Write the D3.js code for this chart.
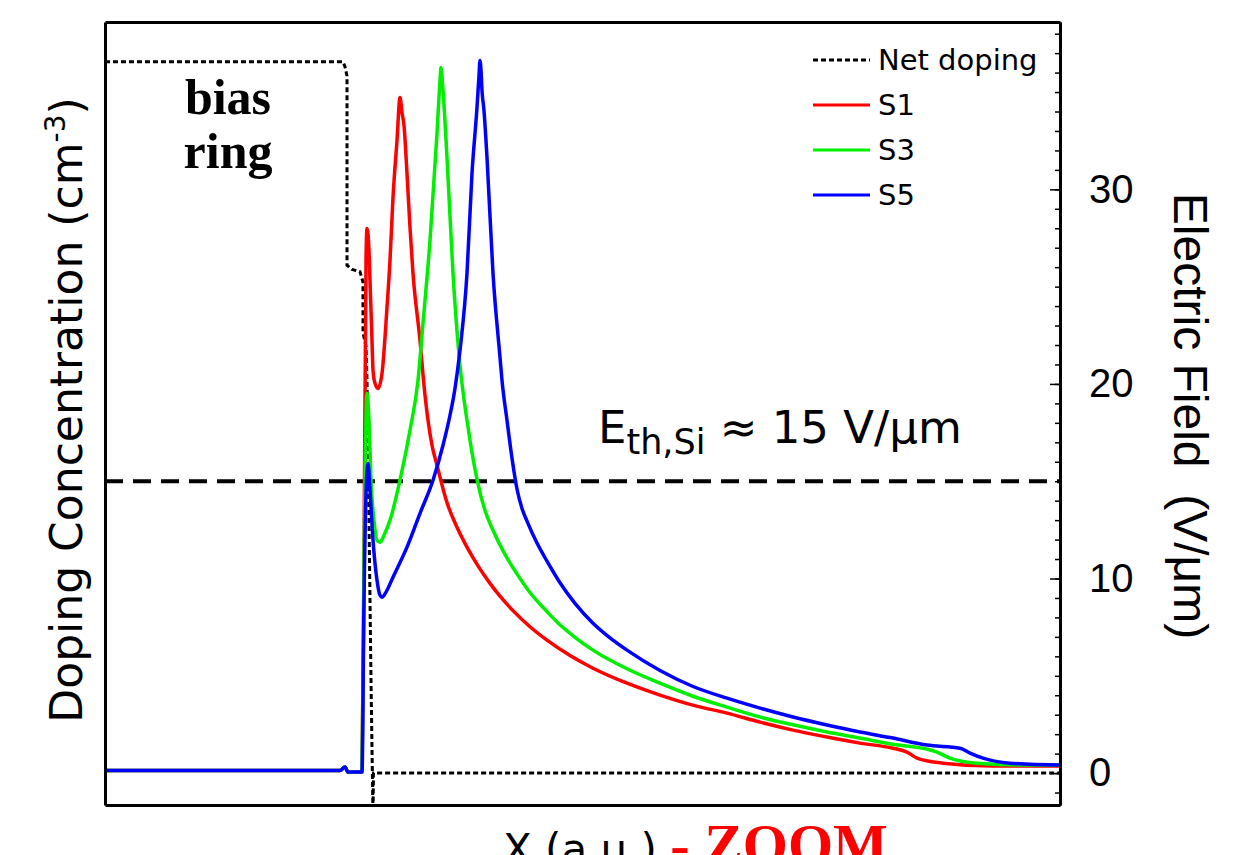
<!DOCTYPE html>
<html>
<head>
<meta charset="utf-8">
<script src="https://cdn.jsdelivr.net/npm/d3@7"></script>
<style>
  body { margin: 0; background: #fff; }
  svg { display: block; font-family: 'DejaVu Sans', sans-serif; }
  .frame .domain { stroke: #000; stroke-width: 3; }
  .frame .tick line { stroke: #000; stroke-width: 1.5; }
</style>
</head>
<body>
<svg id="chart"></svg>
<script>
// values: x in a.u., E in V/um, doping normalised (no scale shown)
var netDoping = [[0,1.0],[2.38,1.0],[2.40,0.993],[2.42,0.98],[2.42,0.714],[2.47,0.708],[2.55,0.705],
  [2.58,0.69],[2.58,0.619],[2.61,0.60],[2.62,0.553],[2.64,0.356],[2.66,0.131],[2.68,-0.06],[2.685,0],[9.55,0]];

var s1 = [[0,0.13],[2.35,0.13],[2.40,0.31],[2.43,0.05],[2.57,0.05],[2.59,10.94],[2.61,26.35],[2.62,27.99],
  [2.64,26.86],[2.65,25.32],[2.67,22.24],[2.68,20.70],[2.70,20.03],[2.73,19.77],[2.77,20.54],[2.82,23.93],
  [2.85,26.35],[2.88,29.58],[2.92,32.51],[2.95,34.72],[2.97,33.95],[2.99,33.28],[3.02,30.82],[3.05,28.04],
  [3.08,25.68],[3.15,22.24],[3.19,19.93],[3.23,18.13],[3.27,16.85],[3.32,15.82],[3.42,13.9],[3.52,12.63],
  [3.62,11.61],[3.73,10.65],[3.85,9.75],[3.95,9.09],[4.08,8.35],[4.25,7.52],[4.42,6.83],[4.65,6.04],
  [4.88,5.39],[5.22,4.62],[5.55,4.01],[5.88,3.49],[6.22,3.08],[6.55,2.62],[6.88,2.21],[7.22,1.85],
  [7.55,1.54],[7.88,1.28],[8.02,1.08],[8.12,0.77],[8.38,0.51],[8.88,0.36],[9.55,0.36]];

var s3 = [[0,0.13],[2.35,0.13],[2.40,0.31],[2.43,0.05],[2.57,0.05],[2.59,10.94],[2.62,19.52],[2.64,18.13],
  [2.66,15.05],[2.69,12.99],[2.72,11.97],[2.75,11.86],[2.79,12.22],[2.85,12.99],[2.95,15.05],[3.05,17.62],
  [3.13,20.18],[3.18,23.11],[3.25,27.38],[3.32,32.87],[3.35,35.59],[3.36,36.26],[3.38,35.08],[3.42,31.64],
  [3.48,25.68],[3.55,20.95],[3.62,18.13],[3.72,15.10],[3.80,13.5],[3.88,12.48],[4.00,11.24],[4.12,10.24],
  [4.25,9.28],[4.42,8.3],[4.55,7.62],[4.70,6.98],[4.88,6.32],[5.22,5.36],[5.55,4.62],[5.88,3.95],
  [6.22,3.39],[6.55,2.88],[6.88,2.48],[7.22,2.11],[7.55,1.80],[7.88,1.48],[8.22,1.23],[8.32,1.08],
  [8.45,0.77],[8.72,0.51],[9.22,0.41],[9.55,0.41]];

var s5 = [[0,0.13],[2.35,0.13],[2.40,0.31],[2.43,0.05],[2.57,0.05],[2.59,8.89],[2.62,15.56],[2.63,15.92],
  [2.65,14.53],[2.68,11.97],[2.72,9.91],[2.75,9.14],[2.77,9.04],[2.81,9.30],[2.88,10.07],[3.02,11.61],
  [3.15,13.35],[3.28,15.05],[3.38,16.85],[3.45,18.39],[3.50,19.77],[3.55,21.73],[3.62,25.68],[3.67,30.82],
  [3.72,34.21],[3.74,35.85],[3.75,36.62],[3.76,36.11],[3.77,35.08],[3.79,34.05],[3.82,31.64],[3.88,25.68],
  [3.95,21.37],[3.97,20.18],[4.02,18.13],[4.07,16.18],[4.12,14.6],[4.17,13.6],[4.22,12.95],[4.32,11.82],
  [4.42,10.89],[4.55,9.78],[4.70,8.72],[4.88,7.70],[5.05,6.95],[5.22,6.32],[5.55,5.27],[5.88,4.45],
  [6.22,3.85],[6.55,3.34],[6.88,2.88],[7.22,2.47],[7.55,2.11],[7.88,1.80],[8.22,1.44],[8.55,1.28],
  [8.65,1.03],[8.78,0.77],[9.05,0.51],[9.55,0.41]];

var threshold = 15;
var rightTicks = [0, 10, 20, 30];
var legendNames = ["Net doping", "S1", "S3", "S5"];
var legendColors = ["#000", "#ff0000", "#00ee00", "#0000ff"];

var width = 1239, height = 855;
var mLeft = 105, mRight = 1060, mTop = 22, mBottom = 805;
var translate = function (x, y) { return "translate(" + x + "," + y + ")"; };

var svg = d3.select("#chart").attr("width", width).attr("height", height);
svg.append("rect").attr("width", width).attr("height", height).attr("fill", "#fff");

var x = d3.scaleLinear().domain([0, 9.55]).range([mLeft, mRight]);
var yE = d3.scaleLinear().domain([-1.64, 38.6]).range([mBottom, mTop]);
var yDop = d3.scaleLinear().domain([-0.045, 1.056]).range([mBottom, mTop]);

svg.append("defs").append("clipPath").attr("id", "plotclip")
  .append("rect").attr("x", mLeft).attr("y", mTop).attr("width", mRight - mLeft).attr("height", mBottom - mTop);

var plot = svg.append("g").attr("clip-path", "url(#plotclip)");

// net doping (dotted step profile)
plot.append("path")
  .datum(netDoping)
  .attr("fill", "none").attr("stroke", "#000").attr("stroke-width", 3)
  .attr("stroke-dasharray", "5,3")
  .attr("d", d3.line().x(d => x(d[0])).y(d => yDop(d[1])));

// threshold field
plot.append("line")
  .attr("x1", x(0)).attr("x2", x(9.55))
  .attr("y1", yE(threshold)).attr("y2", yE(threshold))
  .attr("stroke", "#000").attr("stroke-width", 4).attr("stroke-dasharray", "18,10");

var eLine = d3.line().curve(d3.curveMonotoneX).x(d => x(d[0])).y(d => yE(d[1]));
[s1, s3, s5].forEach(function (s, i) {
  plot.append("path").datum(s)
    .attr("fill", "none").attr("stroke", legendColors[i + 1]).attr("stroke-width", 3.5)
    .attr("stroke-linejoin", "round")
    .attr("d", eLine);
});

// frame
svg.append("g").attr("class", "frame").attr("transform", translate(0, mBottom))
  .call(d3.axisBottom(x).tickValues([]).tickSizeOuter(0));
svg.append("g").attr("class", "frame").attr("transform", translate(0, mTop))
  .call(d3.axisTop(x).tickValues([]).tickSizeOuter(0));
svg.append("g").attr("class", "frame").attr("transform", translate(mLeft, 0))
  .call(d3.axisLeft(yDop).tickValues([]).tickSizeOuter(0));

svg.append("g").attr("class", "frame").attr("transform", translate(mRight, 0))
  .call(d3.axisRight(yE).tickValues(yE.ticks(40)).tickSizeInner(-5).tickSizeOuter(0).tickFormat(""));
var major = svg.append("g").attr("class", "frame").attr("transform", translate(mRight, 0))
  .call(d3.axisRight(yE).tickValues(rightTicks).tickSizeInner(-10).tickSizeOuter(0).tickPadding(29));
major.attr("font-family", "'Liberation Sans', Arial, sans-serif").attr("font-size", 40);
major.selectAll("text").attr("fill", "#000");

// axis titles
svg.append("text")
  .attr("transform", translate(82, 410) + " rotate(-90)")
  .attr("text-anchor", "middle").attr("font-size", 44)
  .call(function (t) {
    t.append("tspan").text("Doping Concentration (cm");
    t.append("tspan").attr("font-size", 28).attr("dy", -17).text("-3");
    t.append("tspan").attr("dy", 17).text(")");
  });

svg.append("text")
  .attr("transform", translate(1174, 416) + " rotate(90)")
  .attr("text-anchor", "middle")
  .attr("font-family", "'Liberation Sans', Arial, sans-serif")
  .attr("font-size", 48)
  .style("white-space", "pre")
  .text("Electric Field  (V/μm)");

svg.append("text")
  .attr("x", 503).attr("y", 864)
  .call(function (t) {
    t.append("tspan").attr("font-size", 42).attr("fill", "#000").text("X (a.u.) ");
    t.append("tspan").attr("font-family", "'Liberation Serif', 'Times New Roman', serif")
      .attr("font-weight", "bold").attr("font-size", 58).attr("fill", "#ff0000").text("- ZOOM");
  });

// annotations
svg.append("text")
  .attr("text-anchor", "middle")
  .attr("font-family", "'Liberation Serif', 'Times New Roman', serif")
  .attr("font-weight", "bold").attr("font-size", 50)
  .call(function (t) {
    t.append("tspan").attr("x", 228).attr("y", 114).text("bias");
    t.append("tspan").attr("x", 228).attr("y", 168).text("ring");
  });

svg.append("text")
  .attr("x", 598).attr("y", 443)
  .call(function (t) {
    t.append("tspan").attr("font-size", 45).text("E");
    t.append("tspan").attr("font-size", 35).attr("dy", 11).text("th,Si");
    t.append("tspan").attr("font-size", 45).attr("dy", -11).text(" ≈ 15 V/μm");
  });

// legend
var legend = svg.append("g").attr("transform", translate(813, 60));
legendNames.forEach(function (name, i) {
  var row = legend.append("g").attr("transform", translate(0, i * 45));
  row.append("line").attr("x1", 0).attr("x2", 57).attr("y1", 0).attr("y2", 0)
    .attr("stroke", legendColors[i]).attr("stroke-width", 3)
    .attr("stroke-dasharray", i === 0 ? "5,3" : null);
  row.append("text").attr("x", 65).attr("y", 10).attr("font-size", 29).text(name);
});
</script>
</body>
</html>
